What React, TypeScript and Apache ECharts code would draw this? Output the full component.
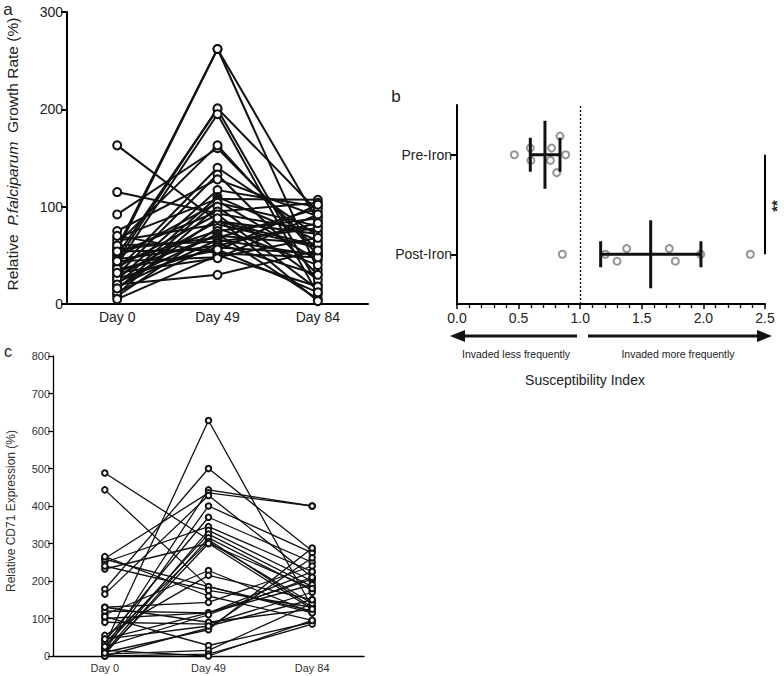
import React, { useEffect, useRef } from "react";
import * as echarts from "echarts";

const FONT = "Liberation Sans, Arial, Helvetica, sans-serif";

// Panel a: relative P. falciparum growth rate (%)
const days = ["Day 0", "Day 49", "Day 84"];
const growthDay0 = [163, 115, 92, 55, 58, 50, 45, 40, 62, 35, 30, 75, 25, 20, 68, 15, 48, 10, 52, 38, 28, 65, 8, 42, 22, 33, 56, 18, 60, 12, 46, 26, 36, 70, 5, 44, 32, 20, 54, 16];
const growthDay49 = [85, 93, 160, 262, 262, 200, 201, 195, 163, 140, 133, 128, 117, 110, 108, 106, 104, 100, 95, 92, 85, 82, 78, 75, 72, 70, 68, 66, 64, 62, 60, 58, 55, 52, 50, 48, 47, 30, 56, 88];
const growthDay84 = [60, 75, 55, 85, 35, 20, 95, 10, 50, 70, 30, 90, 100, 65, 107, 45, 80, 25, 104, 15, 72, 58, 40, 88, 5, 62, 98, 50, 78, 30, 83, 52, 102, 48, 18, 68, 92, 55, 12, 3];
const growthTicks = [0, 100, 200, 300];

// Panel b: susceptibility index
const ironGroups = ["Post-Iron", "Pre-Iron"];
const preIronIndex = [0.465, 0.595, 0.6, 0.768, 0.758, 0.836, 0.882, 0.809];
const preIronJitter = [0, 0.067, -0.057, 0.067, -0.057, 0.188, 0, -0.18];
const postIronIndex = [0.855, 1.204, 1.299, 1.377, 1.723, 1.772, 1.978, 2.381];
const postIronJitter = [0, 0, -0.07, 0.057, 0.057, -0.07, 0, 0];
const ironMean = [0.714, 1.572];
const ironLow = [0.595, 1.166];
const ironHigh = [0.836, 1.98];
const ironCenter = [1.5, 0.5];

// Panel c: relative CD71 expression (%)
const cd71Day0 = [488, 443, 30, 178, 20, 260, 165, 15, 40, 250, 10, 25, 5, 35, 232, 110, 55, 258, 240, 130, 120, 100, 90, 0, 10, 45, 105, 5, 0, 15, 265, 130, 25, 8, 45];
const cd71Day49 = [310, 185, 628, 500, 443, 435, 428, 400, 370, 345, 335, 325, 315, 305, 300, 228, 215, 185, 175, 143, 115, 115, 85, 75, 70, 115, 28, 15, 5, 0, 160, 90, 110, 300, 80];
const cd71Day84 = [130, 120, 130, 280, 400, 400, 210, 275, 250, 225, 200, 185, 175, 140, 125, 115, 150, 115, 130, 240, 205, 190, 170, 262, 288, 225, 90, 140, 85, 95, 95, 125, 210, 180, 150];

export default function App() {
  const ref = useRef<HTMLDivElement>(null);

  useEffect(() => {
    if (!ref.current) return;
    const chart = echarts.init(ref.current, null, { renderer: "svg" });

    const textA = { fontFamily: FONT, fontSize: 14, color: "#222" };
    const textC = { fontFamily: FONT, fontSize: 11, color: "#333" };

    const lineA = growthDay0.map((v, i) => ({
      type: "line",
      xAxisIndex: 0,
      yAxisIndex: 0,
      data: [v, growthDay49[i], growthDay84[i]],
      symbol: "emptyCircle",
      symbolSize: 8,
      lineStyle: { color: "#111", width: 2 },
      itemStyle: { color: "#111", borderWidth: 2.6 },
      silent: true,
    }));

    const lineC = cd71Day0.map((v, i) => ({
      type: "line",
      xAxisIndex: 2,
      yAxisIndex: 3,
      data: [v, cd71Day49[i], cd71Day84[i]],
      symbol: "emptyCircle",
      symbolSize: 5.5,
      lineStyle: { color: "#111", width: 1.3 },
      itemStyle: { color: "#111", borderWidth: 1.7 },
      silent: true,
    }));

    const scatterStyle = {
      symbol: "emptyCircle",
      symbolSize: 7,
      itemStyle: { color: "#7a7a7a", borderWidth: 2.4 },
    };

    const option: any = {
      animation: false,
      backgroundColor: "#fff",
      grid: [
        { left: 67, top: 12, width: 301, height: 292 },
        { left: 457, top: 105, width: 308, height: 199 },
        { left: 53, top: 356, width: 311, height: 300 },
      ],
      xAxis: [
        {
          gridIndex: 0,
          type: "category",
          data: days,
          axisLine: { lineStyle: { color: "#000", width: 2 } },
          axisTick: { alignWithLabel: true, length: 6, lineStyle: { color: "#000", width: 2 } },
          axisLabel: { ...textA, margin: 6 },
          splitLine: { show: false },
        },
        {
          gridIndex: 1,
          type: "value",
          min: 0,
          max: 2.5,
          interval: 0.5,
          axisLine: { lineStyle: { color: "#000", width: 2 } },
          axisTick: { length: 5, lineStyle: { color: "#000", width: 1.5 } },
          minorTick: { show: true, splitNumber: 5, length: 4, lineStyle: { color: "#000", width: 1.3 } },
          axisLabel: { ...textA, margin: 7, formatter: (v: number) => v.toFixed(1) },
          splitLine: { show: false },
          minorSplitLine: { show: false },
        },
        {
          gridIndex: 2,
          type: "category",
          data: days,
          axisLine: { lineStyle: { color: "#000", width: 1.3 } },
          axisTick: { alignWithLabel: true, length: 5, lineStyle: { color: "#000", width: 1.2 } },
          axisLabel: { ...textC, margin: 6 },
          splitLine: { show: false },
        },
      ],
      yAxis: [
        {
          gridIndex: 0,
          type: "value",
          min: growthTicks[0],
          max: growthTicks[growthTicks.length - 1],
          interval: 100,
          axisLine: { show: true, lineStyle: { color: "#000", width: 2 } },
          axisTick: { show: true, length: 6, lineStyle: { color: "#000", width: 2 } },
          axisLabel: { ...textA, margin: 4 },
          splitLine: { show: false },
        },
        {
          gridIndex: 1,
          type: "category",
          data: ironGroups,
          axisLine: { show: true, lineStyle: { color: "#000", width: 2 } },
          axisTick: { show: true, alignWithLabel: true, length: 6, lineStyle: { color: "#000", width: 2 } },
          axisLabel: { ...textA, margin: 5 },
          splitLine: { show: false },
        },
        {
          gridIndex: 1,
          type: "value",
          min: 0,
          max: 2,
          show: false,
          splitLine: { show: false },
        },
        {
          gridIndex: 2,
          type: "value",
          min: 0,
          max: 800,
          interval: 100,
          axisLine: { show: true, lineStyle: { color: "#000", width: 1.3 } },
          axisTick: { show: true, length: 5, lineStyle: { color: "#000", width: 1.2 } },
          axisLabel: { ...textC, margin: 3 },
          splitLine: { show: false },
        },
      ],
      series: [
        ...lineA,
        ...lineC,
        {
          type: "scatter",
          xAxisIndex: 1,
          yAxisIndex: 2,
          data: preIronIndex.map((v, i) => [v, ironCenter[0] + preIronJitter[i]]),
          ...scatterStyle,
          silent: true,
          z: 3,
          markLine: {
            silent: true,
            symbol: ["none", "none"],
            label: { show: false },
            lineStyle: { color: "#000", width: 1.3, type: [2, 2] },
            data: [{ xAxis: 1 }],
          },
        },
        {
          type: "scatter",
          xAxisIndex: 1,
          yAxisIndex: 2,
          data: postIronIndex.map((v, i) => [v, ironCenter[1] + postIronJitter[i]]),
          ...scatterStyle,
          silent: true,
          z: 3,
          markLine: {
            silent: true,
            symbol: ["none", "none"],
            label: { show: false },
            lineStyle: { color: "#000", width: 2, type: "solid" },
            data: [[{ coord: [2.5, ironCenter[0]] }, { coord: [2.5, ironCenter[1]] }]],
          },
        },
        {
          type: "custom",
          xAxisIndex: 1,
          yAxisIndex: 2,
          silent: true,
          z: 4,
          data: ironMean.map((m, i) => [m, ironLow[i], ironHigh[i], ironCenter[i]]),
          encode: { x: [0, 1, 2], y: 3 },
          renderItem: (params: any, api: any) => {
            const pm = api.coord([api.value(0), api.value(3)]);
            const pl = api.coord([api.value(1), api.value(3)]);
            const ph = api.coord([api.value(2), api.value(3)]);
            const cap = params.dataIndex === 0 ? 17 : 13;
            const style = { stroke: "#111", lineWidth: 3 };
            return {
              type: "group",
              children: [
                { type: "line", shape: { x1: pm[0], y1: pm[1] - 34, x2: pm[0], y2: pm[1] + 34 }, style },
                { type: "line", shape: { x1: pl[0], y1: pl[1], x2: ph[0], y2: ph[1] }, style },
                { type: "line", shape: { x1: pl[0], y1: pl[1] - cap, x2: pl[0], y2: pl[1] + cap }, style },
                { type: "line", shape: { x1: ph[0], y1: ph[1] - cap, x2: ph[0], y2: ph[1] + cap }, style },
              ],
            };
          },
        },
      ],
      graphic: [
        { type: "text", x: 8, y: 9, style: { text: "a", fontFamily: FONT, fontSize: 17, fill: "#222", align: "center", verticalAlign: "middle" } },
        { type: "text", x: 396, y: 96, style: { text: "b", fontFamily: FONT, fontSize: 17, fill: "#222", align: "center", verticalAlign: "middle" } },
        { type: "text", x: 8, y: 351, style: { text: "c", fontFamily: FONT, fontSize: 16, fill: "#222", align: "center", verticalAlign: "middle" } },
        {
          type: "text",
          x: 12,
          y: 154,
          rotation: Math.PI / 2,
          style: {
            text: "Relative  {i|P.falciparum}  Growth Rate (%)",
            fontFamily: FONT,
            fontSize: 15.5,
            fill: "#222",
            align: "center",
            verticalAlign: "middle",
            rich: { i: { fontStyle: "italic", fontFamily: FONT, fontSize: 15.5, fill: "#222" } },
          },
        },
        {
          type: "text",
          x: 11,
          y: 511,
          rotation: Math.PI / 2,
          style: { text: "Relative CD71 Expression (%)", fontFamily: FONT, fontSize: 12, fill: "#333", align: "center", verticalAlign: "middle" },
        },
        {
          type: "text",
          x: 776,
          y: 206,
          rotation: Math.PI / 2,
          style: { text: "**", fontFamily: FONT, fontSize: 15, fontWeight: "bold", fill: "#222", align: "center", verticalAlign: "middle" },
        },
        { type: "line", shape: { x1: 577, y1: 336, x2: 462, y2: 336 }, style: { stroke: "#111", lineWidth: 3 } },
        { type: "polygon", shape: { points: [[450, 336], [465, 330], [465, 342]] }, style: { fill: "#111" } },
        { type: "line", shape: { x1: 588, y1: 336, x2: 758, y2: 336 }, style: { stroke: "#111", lineWidth: 3 } },
        { type: "polygon", shape: { points: [[772, 336], [757, 330], [757, 342]] }, style: { fill: "#111" } },
        { type: "text", x: 516, y: 354, style: { text: "Invaded less frequently", fontFamily: FONT, fontSize: 10.5, fill: "#222", align: "center", verticalAlign: "middle" } },
        { type: "text", x: 678, y: 354, style: { text: "Invaded more frequently", fontFamily: FONT, fontSize: 10.5, fill: "#222", align: "center", verticalAlign: "middle" } },
        { type: "text", x: 585, y: 380, style: { text: "Susceptibility Index", fontFamily: FONT, fontSize: 14, fill: "#222", align: "center", verticalAlign: "middle" } },
      ],
    };

    chart.setOption(option);
    return () => chart.dispose();
  }, []);

  return (
    <div
      ref={ref}
      style={{ position: "fixed", left: 0, top: 0, width: 784, height: 676, background: "#fff" }}
    />
  );
}
